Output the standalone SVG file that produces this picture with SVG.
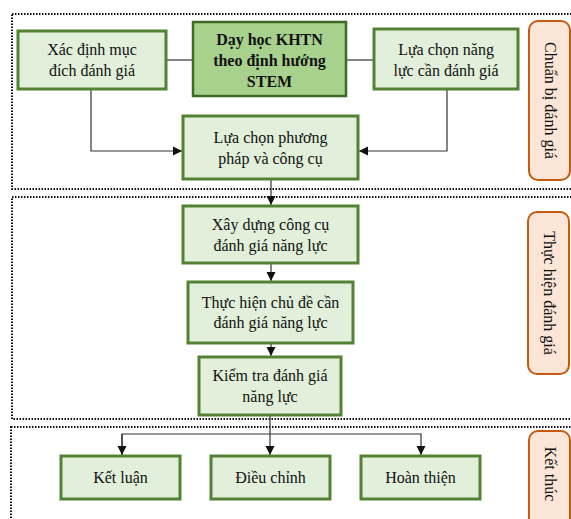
<svg xmlns="http://www.w3.org/2000/svg" width="571" height="519" viewBox="0 0 571 519">
<style>
.sec{fill:none;stroke:#111;stroke-width:2;stroke-dasharray:1.5 1.5}
.box{fill:#e2efda;stroke:#548235;stroke-width:3}
.main{fill:#a9d18e;stroke:#3d6b27;stroke-width:2.5}
.lab{fill:#fbe5d6;stroke:#c55a11;stroke-width:2}
text{font-family:"Liberation Serif","Times New Roman",serif;font-size:16px;fill:#111;text-anchor:middle}
.b{font-weight:bold}
.v{font-size:16px}
.c{fill:none;stroke:#333;stroke-width:1.2}
</style>
<defs>
<marker id="ar" markerWidth="10" markerHeight="10" refX="9" refY="5" orient="auto" markerUnits="userSpaceOnUse">
<path d="M0,0.5 L9,5 L0,9.5 Z" fill="#111"/>
</marker>
</defs>
<rect class="sec" x="12" y="14" width="570" height="175"/>
<rect class="sec" x="12" y="197" width="570" height="222"/>
<rect class="sec" x="11" y="427" width="570" height="110"/>
<g id="connectors">
<line class="c" x1="166" y1="60" x2="193" y2="60"/>
<line class="c" x1="346" y1="60" x2="374" y2="60"/>
<path class="c" d="M91,89 V151 H182" marker-end="url(#ar)"/>
<path class="c" d="M447,89 V151 H359" marker-end="url(#ar)"/>
<path class="c" d="M271,179 V205" marker-end="url(#ar)"/>
<path class="c" d="M271,263 V281" marker-end="url(#ar)"/>
<path class="c" d="M271,343 V356" marker-end="url(#ar)"/>
<path class="c" d="M270,415 V455" marker-end="url(#ar)"/>
<path class="c" d="M122,455 V434 H421 V455" marker-end="url(#ar)"/>
<path class="c" d="M122,434 V455" marker-end="url(#ar)"/>
</g>
<g id="n-xacdinh"><rect class="box" x="18" y="31" width="148" height="58"/><text x="92" y="55">Xác định mục</text><text x="92" y="76">đích đánh giá</text></g>
<g id="n-dayhoc"><rect class="main" x="193" y="22" width="153" height="74"/><text class="b" x="269.5" y="45">Dạy học KHTN</text><text class="b" x="269.5" y="66">theo định hướng</text><text class="b" x="269.5" y="87">STEM</text></g>
<g id="n-luachonnangluc"><rect class="box" x="374" y="29" width="144" height="60"/><text x="446" y="55">Lựa chọn năng</text><text x="446" y="76">lực cần đánh giá</text></g>
<g id="n-luachonpp"><rect class="box" x="183" y="116" width="175" height="63"/><text x="270.5" y="143">Lựa chọn phương</text><text x="270.5" y="164">pháp và công cụ</text></g>
<g id="n-xaydung"><rect class="box" x="183" y="206" width="175" height="57"/><text x="270.5" y="230">Xây dựng công cụ</text><text x="270.5" y="251">đánh giá năng lực</text></g>
<g id="n-thuchien"><rect class="box" x="188" y="282" width="165" height="61"/><text x="270.5" y="308">Thực hiện chủ đề cần</text><text x="270.5" y="328">đánh giá năng lực</text></g>
<g id="n-kiemtra"><rect class="box" x="199" y="357" width="142" height="58"/><text x="270" y="381">Kiểm tra đánh giá</text><text x="270" y="402">năng lực</text></g>
<g id="n-ketluan"><rect class="box" x="61" y="456" width="119" height="43"/><text x="120.5" y="483">Kết luận</text></g>
<g id="n-dieuchinh"><rect class="box" x="211" y="456" width="119" height="43"/><text x="270.5" y="483">Điều chỉnh</text></g>
<g id="n-hoanthien"><rect class="box" x="361" y="456" width="119" height="43"/><text x="420.5" y="483">Hoàn thiện</text></g>
<g id="l-chuanbi"><rect class="lab" x="529" y="21" width="41" height="159" rx="9"/><text class="v" transform="translate(549.5,100.5) rotate(90)" y="5">Chuẩn bị đánh giá</text></g>
<g id="l-thuchien"><rect class="lab" x="528" y="212" width="41" height="162" rx="9"/><text class="v" transform="translate(548.5,293) rotate(90)" y="5">Thực hiện đánh giá</text></g>
<g id="l-ketthuc"><rect class="lab" x="529" y="431" width="41" height="96" rx="9"/><text class="v" transform="translate(549.5,474) rotate(90)" y="5">Kết thúc</text></g>
</svg>
